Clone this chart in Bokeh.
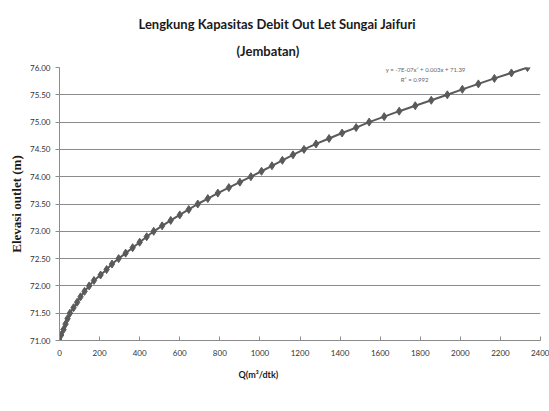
from bokeh.plotting import figure
from bokeh.models import Label, Title, FixedTicker, ColumnDataSource, PrintfTickFormatter
from bokeh.embed import file_html
from bokeh.resources import INLINE

# Data: elevation (m) vs discharge Q (m3/dtk)
elevasi = [71.0, 71.1, 71.2, 71.3, 71.4, 71.5, 71.6, 71.7, 71.8, 71.9,
           72.0, 72.1, 72.2, 72.3, 72.4, 72.5, 72.6, 72.7, 72.8, 72.9,
           73.0, 73.1, 73.2, 73.3, 73.4, 73.5, 73.6, 73.7, 73.8, 73.9,
           74.0, 74.1, 74.2, 74.3, 74.4, 74.5, 74.6, 74.7, 74.8, 74.9,
           75.0, 75.1, 75.2, 75.3, 75.4, 75.5, 75.6, 75.7, 75.8, 75.9, 76.0]
debit = [0, 8, 20, 30, 40, 52, 70, 88, 105, 125,
         148, 172, 205, 235, 262, 295, 330, 365, 400, 435,
         470, 512, 555, 600, 645, 690, 740, 790, 845, 900,
         955, 1008, 1060, 1112, 1165, 1220, 1280, 1345, 1410, 1480,
         1545, 1620, 1695, 1775, 1855, 1935, 2010, 2090, 2170, 2255, 2335]

x_ticks = [0, 200, 400, 600, 800, 1000, 1200, 1400, 1600, 1800, 2000, 2200, 2400]
y_ticks = [71.0, 71.5, 72.0, 72.5, 73.0, 73.5, 74.0, 74.5, 75.0, 75.5, 76.0]

title1 = "Lengkung Kapasitas Debit Out Let Sungai Jaifuri"
title2 = "(Jembatan)"
x_label = "Q(m\u00b3/dtk)"
y_label = "Elevasi outlet (m)"
eq1 = "y = -7E-07x\u00b2 + 0.003x + 71.39"
eq2 = "R\u00b2 = 0.992"

W, H = 549, 405
FL, FB = 59, 340   # frame left / bottom in page pixels

p = figure(width=W, height=H, output_backend="svg", toolbar_location=None,
           x_range=(0, 2400), y_range=(71, 76),
           min_border_left=FL, min_border_right=W - 540, min_border_top=67,
           min_border_bottom=H - FB)
p.outline_line_color = None
p.background_fill_color = "white"
p.border_fill_color = "white"

p.xaxis.ticker = FixedTicker(ticks=x_ticks)
p.yaxis.ticker = FixedTicker(ticks=y_ticks)
p.yaxis.formatter = PrintfTickFormatter(format="%.2f")

for ax in (p.xaxis[0], p.yaxis[0]):
    ax.axis_line_color = "#8c8c8c"
    ax.major_tick_line_color = "#8c8c8c"
    ax.minor_tick_line_color = None
    ax.major_label_text_font = "Lato"
    ax.major_label_text_font_size = "8px"
    ax.major_label_text_color = "#333333"
p.xaxis.major_tick_in = 4
p.xaxis.major_tick_out = 0
p.xaxis.major_label_standoff = 9
p.yaxis.major_tick_in = 0
p.yaxis.major_tick_out = 4
p.yaxis.major_label_standoff = 5

p.yaxis.axis_label = y_label
p.yaxis.axis_label_text_font = "Liberation Serif"
p.yaxis.axis_label_text_font_style = "bold"
p.yaxis.axis_label_text_font_size = "13px"
p.yaxis.axis_label_text_color = "#1a1a1a"
p.yaxis.axis_label_standoff = 3

p.xgrid.grid_line_color = None
p.ygrid.grid_line_color = "#8c8c8c"
p.ygrid.grid_line_width = 1

src = ColumnDataSource(dict(q=debit, h=elevasi))
p.line("q", "h", source=src, line_color="#5a5a5a", line_width=2)
p.scatter("q", "h", source=src, marker="diamond", size=8, fill_color="#5a5a5a", line_color="#5a5a5a")

# titles above the plot (later-added is placed further out)
p.add_layout(Title(text=title2, align="left", offset=236 - FL, text_font="Lato",
                   text_font_style="bold", text_font_size="13px", text_color="#1a1a1a",
                   standoff=18), "above")
p.add_layout(Title(text=title1, align="left", offset=138 - FL, text_font="Lato",
                   text_font_style="bold", text_font_size="13px", text_color="#1a1a1a",
                   standoff=0), "above")
# x axis label below
p.add_layout(Title(text=x_label, align="left", offset=238 - FL, text_font="Lato",
                   text_font_style="bold", text_font_size="9px", text_color="#1a1a1a",
                   standoff=16), "below")

# trendline equation (inside the frame)
def sx(page_x):
    return page_x - FL

def sy(page_y):
    return FB - page_y

def lab(px, py, text, **kw):
    p.add_layout(Label(x=sx(px), y=sy(py), x_units="screen", y_units="screen", text=text,
                       text_baseline="middle", **kw))

lab(465, 69, eq1, text_align="right", text_font="Lato", text_font_size="6px",
    text_color="#666666")
lab(428, 79, eq2, text_align="right", text_font="Lato", text_font_size="6px",
    text_color="#666666")

open("out.html", "w").write(file_html(p, INLINE))
